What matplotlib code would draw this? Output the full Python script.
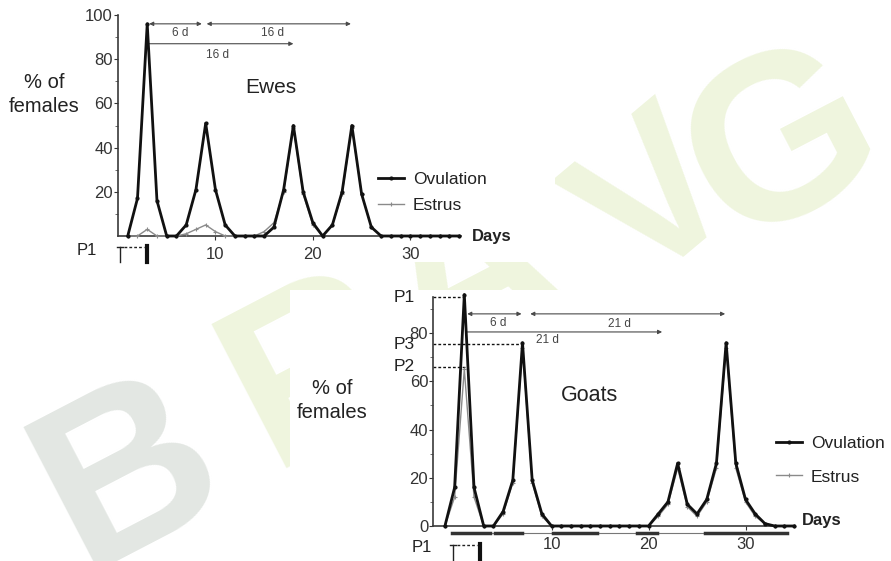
import numpy as np
import matplotlib
matplotlib.use("Agg")
import matplotlib.pyplot as plt
from matplotlib.lines import Line2D
from matplotlib.patches import Rectangle

plt.rcParams['font.family'] = ['Liberation Sans', 'DejaVu Sans']

W, H = 891, 561

# ---- data ----
ewe_days = list(range(1, 36))
ewe_ovulation = [0, 17, 96, 16, 0, 0, 5, 21, 51, 21, 5, 0, 0, 0, 0, 4, 21, 50, 20, 6,
                 0, 5, 20, 50, 19, 4, 0, 0, 0, 0, 0, 0, 0, 0, 0]
ewe_estrus = [0, 0, 3, 0, 0, 0, 1, 3, 5, 2, 0, 0, 0, 0, 2, 6, 20, 49, 19, 5,
              0, 5, 19, 49, 19, 4, 0, 0, 0, 0, 0, 0, 0, 0, 0]

goat_days = list(range(-1, 36))
goat_ovulation = [0, 16, 96, 16, 0, 0, 6, 19, 76, 19, 5, 0, 0, 0, 0, 0, 0, 0, 0, 0, 0,
                  0, 5, 10, 26, 9, 5, 11, 26, 76, 26, 11, 5, 1, 0, 0, 0]
goat_estrus = [0, 12, 65, 12, 0, 0, 5, 18, 74, 18, 4, 0, 0, 0, 0, 0, 0, 0, 0, 0, 0,
               0, 4, 9, 24, 8, 4, 10, 24, 74, 24, 10, 4, 1, 0, 0, 0]

x_ticks = [10, 20, 30]
ewe_yticks = [20, 40, 60, 80, 100]
goat_yticks = [0, 20, 40, 60, 80]

# interval arrows: (start day, end day, level, style) and labels (day, level, text)
ewe_arrows = [(3.2, 8.6, 96, '<|-|>'), (9.1, 23.9, 96, '<|-|>'), (3.2, 18.0, 87, '-|>')]
ewe_arrow_text = [(6.4, 92, '6 d'), (15.9, 92, '16 d'), (10.2, 82, '16 d')]
goat_arrows = [(1.3, 6.9, 88, '<|-|>'), (7.8, 27.9, 88, '<|-|>'), (1.3, 21.4, 80.5, '-|>')]
goat_arrow_text = [(4.5, 84.2, '6 d'), (17.0, 83.8, '21 d'), (9.6, 77.2, '21 d')]
goat_peaks = [('P1', 95, 0.9), ('P3', 75.5, 6.8), ('P2', 66, 1.2)]
goat_strip = [(-0.3, 3.6), (4.2, 7.0), (10.1, 14.7), (18.8, 20.9), (25.8, 34.3)]

# watermark letters, centres (pixels), tilt and size
wm_letters = ['B', 'R', 'A', 'V', 'G']
wm_centres = [(130, 478), (318, 375), (470, 280), (660, 205), (785, 150)]
wm_tilt = [27.5, 27.5, 27.5, 40, 27.5]
wm_size = [170, 170, 170, 150, 170]
wm_colors = ['#e3e7e3', '#eff5de', '#eff5de', '#eff5de', '#eff5de']

fig = plt.figure(figsize=(W / 100, H / 100), dpi=100)


def fx(px):
    return px / W


def fy(py):
    return 1 - py / H


# watermark behind the two pasted chart boxes
for ch, (cx, cy), rot, sz, col in zip(wm_letters, wm_centres, wm_tilt, wm_size, wm_colors):
    fig.text(fx(cx), fy(cy), ch, fontsize=sz, fontweight='bold', color=col,
             rotation=rot, rotation_mode='anchor', ha='center', va='center', zorder=-3)
fig.add_artist(Rectangle((0, fy(262)), fx(555), 1 - fy(262), transform=fig.transFigure,
                         facecolor='white', edgecolor='none', zorder=-2))
fig.add_artist(Rectangle((fx(290), 0), 1 - fx(290), fy(290), transform=fig.transFigure,
                         facecolor='white', edgecolor='none', zorder=-2))


def style_axes(ax, yticks):
    for s in ['top', 'right']:
        ax.spines[s].set_visible(False)
    for s in ['left', 'bottom']:
        ax.spines[s].set_color('#3a3a3a')
        ax.spines[s].set_linewidth(1.2)
    ax.set_facecolor('none')
    ax.set_xticks(x_ticks)
    ax.set_yticks(yticks)
    ax.set_yticks(list(range(10, 100, 20)), minor=True)
    ax.tick_params(axis='y', which='major', length=3, width=0.8, pad=0.5, labelsize=12,
                   colors='#333333')
    ax.tick_params(axis='y', which='minor', length=2, width=0.6, colors='#555555')
    ax.tick_params(axis='x', length=3, width=0.8, pad=5, labelsize=12, colors='#333333')


def draw_series(ax, days, ovu, est):
    ax.plot(days, est, color='#8a8a8a', lw=1.0, marker='+', ms=3, mew=0.8, clip_on=False, zorder=3)
    ax.plot(days, ovu, color='#111111', lw=2.0, marker='.', ms=4, clip_on=False, zorder=4)


def draw_arrows(ax, arrows, texts):
    for x0, x1, lev, sty in arrows:
        ax.annotate('', xy=(x1, lev), xytext=(x0, lev), annotation_clip=False,
                    arrowprops=dict(arrowstyle=sty, lw=0.8, color='#4a4a4a',
                                    mutation_scale=6, shrinkA=0, shrinkB=0))
    for x, lev, t in texts:
        ax.text(x, lev, t, fontsize=8.5, color='#444444', ha='center', va='center')


def draw_bracket(ax, x0, x1, y0, y1):
    # P1 bracket below the day axis
    ax.plot([x0 - 0.3, x0 + 0.3], [y0, y0], color='#222222', lw=1, clip_on=False)
    ax.plot([x0, x0], [y0, y1], color='#222222', lw=1, clip_on=False)
    ax.plot([x0 + 0.4, x1 - 0.3], [y0, y0], color='#222222', lw=1, ls=(0, (2, 1.5)), clip_on=False)
    ax.plot([x1, x1], [y0 + 0.5, y1], color='#111111', lw=3, clip_on=False)


handles = [Line2D([], [], color='#111111', lw=2.0, marker='.', ms=4),
           Line2D([], [], color='#8a8a8a', lw=1.0, marker='+', ms=3, mew=0.8)]
labels = ['Ovulation', 'Estrus']

# ---- Ewes ----
ax1 = fig.add_axes([fx(117.5), fy(236), fx(343.5), 221 / H])
ax1.set_xlim(-0.05, 35.2)
ax1.set_ylim(0, 100)
style_axes(ax1, ewe_yticks)
draw_series(ax1, ewe_days, ewe_ovulation, ewe_estrus)
draw_arrows(ax1, ewe_arrows, ewe_arrow_text)
ax1.text(36.3, 0, 'Days', fontsize=12, fontweight='bold', color='#222222', va='center')
ax1.text(15.7, 67, 'Ewes', fontsize=15, color='#222222', ha='center', va='center')
ax1.text(-7.6, 64, '% of\nfemales', fontsize=14.5, color='#222222', ha='center', va='center',
         linespacing=1.35)
ax1.text(-2.2, -6.5, 'P1', fontsize=12, color='#222222', ha='right', va='center')
draw_bracket(ax1, 0.2, 2.95, -5, -11.8)
fig.legend(handles, labels, loc='upper left', bbox_to_anchor=(fx(378), fy(172)), frameon=False,
           fontsize=12.5, handlelength=1.5, handletextpad=0.5, labelspacing=0.6,
           borderpad=0, borderaxespad=0, labelcolor='#222222')

# ---- Goats ----
ax2 = fig.add_axes([fx(433), fy(526), fx(361), 229 / H])
ax2.set_xlim(-2.23, 35)
ax2.set_ylim(0, 95)
style_axes(ax2, goat_yticks)
draw_series(ax2, goat_days, goat_ovulation, goat_estrus)
draw_arrows(ax2, goat_arrows, goat_arrow_text)
ax2.plot([goat_strip[0][0], goat_strip[-1][1]], [-2.9, -2.9], color='#777777', lw=0.8, clip_on=False)
for s0, s1 in goat_strip:
    ax2.plot([s0, s1], [-2.9, -2.9], color='#333333', lw=2.5, clip_on=False)
for name, lev, xe in goat_peaks:
    ax2.plot([-2.23, xe], [lev, lev], color='#111111', lw=1, ls=(0, (2, 1.5)), clip_on=False)
    ax2.text(-4.1, lev, name, fontsize=12.5, color='#222222', ha='right', va='center')
ax2.text(35.8, 2.4, 'Days', fontsize=12, fontweight='bold', color='#222222', va='center')
ax2.text(13.9, 54, 'Goats', fontsize=15.5, color='#222222', ha='center', va='center')
ax2.text(-12.6, 52, '% of\nfemales', fontsize=14.5, color='#222222', ha='center', va='center',
         linespacing=1.35)
ax2.text(-2.3, -9, 'P1', fontsize=12, color='#222222', ha='right', va='center')
draw_bracket(ax2, -0.15, 2.6, -7.9, -15)
fig.legend(handles, labels, loc='upper left', bbox_to_anchor=(fx(776), fy(436)), frameon=False,
           fontsize=12.5, handlelength=1.5, handletextpad=0.5, labelspacing=1.05,
           borderpad=0, borderaxespad=0, labelcolor='#222222')

fig.savefig('out.png', dpi=100)
